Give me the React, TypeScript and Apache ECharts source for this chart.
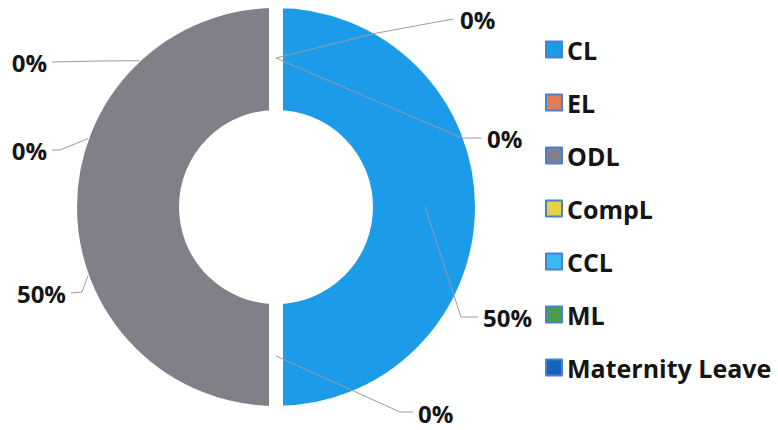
import React, { useEffect, useRef } from "react";
import * as echarts from "echarts";

const CATEGORIES = ["CL", "EL", "ODL", "CompL", "CCL", "ML", "Maternity Leave"];
const VALUES = [50, 0, 50, 0, 0, 0, 0];
const COLORS = ["#1c9ce8", "#e07b54", "#808089", "#e8d040", "#3ab8f0", "#4c9a4c", "#1565b8"];
const EDGE_COLORS = ["#1c9ce8", "#4a7cc8", "#4a7cc8", "#4a7cc8", "#4a7cc8", "#4a7cc8", "#4a7cc8"];

const CX = 276;
const CY = 207;
const GAP = 14;
const EDGE = 1.5;
const R_IN = 97 - GAP / 2;
const R_OUT = 199 + GAP / 2;
const MID = 149;
const FONT = "Open Sans";

const pt = (r: number, deg: number): number[] => {
  const a = (deg * Math.PI) / 180;
  return [CX + r * Math.cos(a), CY - r * Math.sin(a)];
};

// label placement (annotation layout), by data index
const LABEL_POS = [
  { x: 483, y: 317, align: "left", line: [pt(MID, 0), [461, 317], [478, 317]] },
  { x: 418, y: 413, align: "left", line: [pt(MID, -90), [400, 412], [413, 412]] },
  { x: 66, y: 293, align: "right", line: [pt(200, 200), [82, 292], [71, 293]] },
  { x: 47, y: 150, align: "right", line: [pt(200, 160), [60, 150], [52, 150]] },
  { x: 47, y: 62, align: "right", line: [pt(200, 133), [100, 61], [52, 62]] },
  { x: 460, y: 19, align: "left", line: [pt(MID, 90), [377, 33], [453, 19]] },
  { x: 487, y: 138, align: "left", line: [pt(MID, 90), [462, 138], [482, 138]] },
];

export default function App() {
  const ref = useRef<HTMLDivElement>(null);
  useEffect(() => {
    document.body.style.margin = "0";
    if (!ref.current) return;
    const chart = echarts.init(ref.current, null, { renderer: "svg" });
    const base = {
      type: "pie",
      center: [CX, CY],
      startAngle: 90,
      clockwise: true,
      emphasis: { disabled: true },
    };
    chart.setOption({
      animation: false,
      backgroundColor: "#ffffff",
      legend: {
        orient: "vertical",
        left: 540,
        top: 32,
        itemWidth: 16,
        itemHeight: 16,
        itemGap: 28,
        icon: "rect",
        textStyle: { fontFamily: FONT, fontWeight: "bold", fontSize: 25, color: "#151515" },
        data: CATEGORIES.map((n, i) => ({
          name: n,
          itemStyle: { color: COLORS[i], borderColor: "#4a80d0", borderWidth: 2 },
        })),
      },
      series: [
        {
          // thin edge under the ring
          ...base,
          z: 1,
          silent: true,
          radius: [R_IN - EDGE, R_OUT + EDGE],
          itemStyle: { borderColor: "#ffffff", borderWidth: GAP },
          label: { show: false },
          labelLine: { show: false },
          data: CATEGORIES.map((n, i) => ({
            name: n,
            value: VALUES[i],
            itemStyle: { color: EDGE_COLORS[i] },
          })),
        },
        {
          ...base,
          z: 2,
          radius: [R_IN, R_OUT],
          itemStyle: { borderColor: "#ffffff", borderWidth: GAP },
          label: { show: false },
          labelLine: { show: false },
          data: CATEGORIES.map((n, i) => ({
            name: n,
            value: VALUES[i],
            itemStyle: { color: COLORS[i] },
          })),
        },
        {
          // label layer drawn above the ring so leader lines cross the slices
          ...base,
          z: 3,
          silent: true,
          radius: [R_IN, R_OUT],
          avoidLabelOverlap: false,
          itemStyle: { color: "rgba(0,0,0,0)", borderWidth: 0 },
          label: {
            show: true,
            position: "outside",
            formatter: (p: any) => `${Math.round(p.percent)}%`,
            fontFamily: FONT,
            fontWeight: "bold",
            fontSize: 24,
            color: "#151515",
            opacity: 1,
          },
          labelLine: { show: true, lineStyle: { color: "#9a9aa2", width: 1, opacity: 1 } },
          labelLayout: (params: any) => {
            const L = LABEL_POS[params.dataIndex];
            return {
              x: L.x,
              y: L.y,
              align: L.align,
              verticalAlign: "middle",
              labelLinePoints: L.line,
            };
          },
          data: CATEGORIES.map((n, i) => ({
            name: n,
            value: VALUES[i],
            itemStyle: { color: "rgba(0,0,0,0)" },
          })),
        },
      ],
    });
    return () => chart.dispose();
  }, []);
  return <div ref={ref} style={{ width: 778, height: 430 }} />;
}
